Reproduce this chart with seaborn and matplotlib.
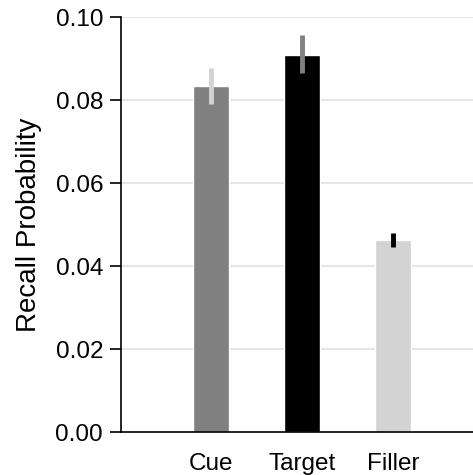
import matplotlib
matplotlib.use("Agg")
import matplotlib.pyplot as plt
import seaborn as sns
import pandas as pd

categories = ["Cue", "Target", "Filler"]
means = [0.0835, 0.0909, 0.0463]
err_low = [0.0790, 0.0866, 0.0447]
err_high = [0.0877, 0.0957, 0.0479]
bar_colors = ["#808080", "#000000", "#d3d3d3"]
err_colors = ["#d3d3d3", "#808080", "#000000"]
yticks = [0.00, 0.02, 0.04, 0.06, 0.08, 0.10]

sns.set_theme(style="white")
plt.rcParams["font.family"] = ["Liberation Sans", "DejaVu Sans"]
plt.rcParams["text.color"] = "black"
plt.rcParams["axes.labelcolor"] = "black"
plt.rcParams["xtick.color"] = "black"
plt.rcParams["ytick.color"] = "black"

df = pd.DataFrame({"cat": categories, "val": means})

fig = plt.figure(figsize=(4.73, 4.75), dpi=100)
ax = fig.add_axes([0.256, 0.0905, 0.754, 0.8735])

for t in yticks[1:]:
    ax.axhline(t, color="#e6e6e6", lw=1.5, zorder=0)

sns.barplot(data=df, x="cat", y="val", hue="cat", palette=bar_colors,
            width=0.4, errorbar=None, legend=False, ax=ax, zorder=2,
            saturation=1)

for i in range(len(categories)):
    ax.plot([i, i], [err_low[i], err_high[i]], color=err_colors[i],
            lw=3.5, solid_capstyle="butt", zorder=3)

ax.set_xlim(-0.99, 2.93)
ax.set_ylim(0, 0.10)
ax.set_yticks(yticks)
ax.set_yticklabels([f"{t:.2f}" for t in yticks])
ax.set_xlabel("")
ax.set_ylabel("Recall Probability", fontsize=20, labelpad=10)
ax.tick_params(axis="y", which="both", left=True, length=8, width=1.2,
               color="black", labelcolor="black", labelsize=17.5, pad=5)
ax.tick_params(axis="x", bottom=False, labelcolor="black", labelsize=17.5, pad=9)
for s in ["top", "right"]:
    ax.spines[s].set_visible(False)
for s in ["left", "bottom"]:
    ax.spines[s].set_color("black")
    ax.spines[s].set_linewidth(1.2)
ax.grid(False)

fig.savefig("out.png", dpi=100)
